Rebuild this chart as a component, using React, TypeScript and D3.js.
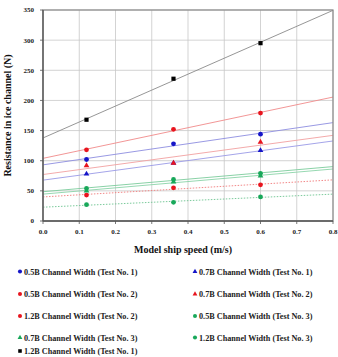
import React from "react";
import * as d3 from "d3";

// Model ship speed (m/s) at which each test was run
const speeds = [0.12, 0.36, 0.6];

// Resistance in ice channel (N) per test configuration
const w05t1 = [102, 128, 144];
const w07t1 = [78, 96, 117];
const w05t2 = [118, 152, 179];
const w07t2 = [92, 96, 131];
const w12t2 = [43, 55, 60];
const w05t3 = [54, 69, 79];
const w07t3 = [50, 65, 75];
const w12t3 = [27, 31, 40];
const w12t1 = [168, 236, 295];

const xTicks = [0, 0.1, 0.2, 0.3, 0.4, 0.5, 0.6, 0.7, 0.8];
const yTicks = [0, 50, 100, 150, 200, 250, 300, 350];

type Shape = "circle" | "triangle" | "square";
interface Series {
  label: string;
  values: number[];
  shape: Shape;
  color: string;
  lineColor: string;
  dash?: string;
}

const BLUE = "#1515c8";
const RED = "#e8141e";
const GREEN = "#18a85a";

const series: Series[] = [
  { label: "0.5B Channel Width (Test No. 1)", values: w05t1, shape: "circle", color: BLUE, lineColor: "#8d8de0" },
  { label: "0.7B Channel Width (Test No. 1)", values: w07t1, shape: "triangle", color: BLUE, lineColor: "#9a9ae6" },
  { label: "0.5B Channel Width (Test No. 2)", values: w05t2, shape: "circle", color: RED, lineColor: "#f08a8a" },
  { label: "0.7B Channel Width (Test No. 2)", values: w07t2, shape: "triangle", color: RED, lineColor: "#f2a0a0" },
  { label: "1.2B Channel Width (Test No. 2)", values: w12t2, shape: "circle", color: RED, lineColor: "#f07a7a", dash: "1.5,1.5" },
  { label: "0.5B Channel Width (Test No. 3)", values: w05t3, shape: "circle", color: GREEN, lineColor: "#7ccc9c" },
  { label: "0.7B Channel Width (Test No. 3)", values: w07t3, shape: "triangle", color: GREEN, lineColor: "#8ad4a8" },
  { label: "1.2B Channel Width (Test No. 3)", values: w12t3, shape: "circle", color: GREEN, lineColor: "#6cc490", dash: "1.5,1.5" },
  { label: "1.2B Channel Width (Test No. 1)", values: w12t1, shape: "square", color: "#000000", lineColor: "#8a8a8a" },
];

const W = 338;
const H = 357;
const M = { left: 43, right: 333, top: 10, bottom: 221 };
const FONT = "'Liberation Serif', 'Times New Roman', serif";

const x = d3.scaleLinear().domain([0, 0.8]).range([M.left, M.right]);
const y = d3.scaleLinear().domain([0, 350]).range([M.bottom, M.top]);

// Least-squares linear trend through a series
function fit(xs: number[], ys: number[]) {
  const mx = d3.mean(xs) as number;
  const my = d3.mean(ys) as number;
  let num = 0;
  let den = 0;
  xs.forEach((xv, i) => {
    num += (xv - mx) * (ys[i] - my);
    den += (xv - mx) * (xv - mx);
  });
  const slope = num / den;
  return { slope, intercept: my - slope * mx };
}

function Marker({ shape, cx, cy, color, size = 1 }: { shape: Shape; cx: number; cy: number; color: string; size?: number }) {
  if (shape === "circle") return <circle cx={cx} cy={cy} r={2.4 * size} fill={color} />;
  if (shape === "square") {
    const s = 4.2 * size;
    return <rect x={cx - s / 2} y={cy - s / 2} width={s} height={s} fill={color} />;
  }
  const sym = d3.symbol().type(d3.symbolTriangle).size(14 * size * size)();
  return <path d={sym ?? ""} transform={`translate(${cx},${cy})`} fill={color} />;
}

export default function App() {
  const legendRows = [272, 294.5, 316.5, 338, 351.5];
  const legendCols = [20, 195];

  return (
    <svg width={W} height={H} style={{ position: "absolute", left: 0, top: 0, background: "#fff" }} fontFamily={FONT}>
      {/* grid */}
      {xTicks.map((t) => (
        <line key={"gx" + t} x1={x(t)} x2={x(t)} y1={M.top} y2={M.bottom} stroke="#c8c8c8" strokeWidth={0.8} />
      ))}
      {yTicks.map((t) => (
        <line key={"gy" + t} x1={M.left} x2={M.right} y1={y(t)} y2={y(t)} stroke="#c8c8c8" strokeWidth={0.8} />
      ))}

      {/* trend lines */}
      {series.map((s) => {
        const f = fit(speeds, s.values);
        const xs = [0, 0.8];
        const pts = xs.map((xv) => [x(xv), y(f.intercept + f.slope * xv)] as [number, number]);
        return (
          <path
            key={"l" + s.label}
            d={d3.line()(pts) ?? ""}
            fill="none"
            stroke={s.lineColor}
            strokeWidth={0.9}
            strokeDasharray={s.dash}
          />
        );
      })}

      {/* data points */}
      {series.map((s) =>
        s.values.map((v, i) => (
          <Marker key={s.label + i} shape={s.shape} cx={x(speeds[i])} cy={y(v)} color={s.color} />
        ))
      )}

      {/* frame */}
      <rect x={M.left} y={M.top} width={M.right - M.left} height={M.bottom - M.top} fill="none" stroke="#8a8a8a" strokeWidth={1.2} />
      <line x1={M.left} x2={M.left} y1={M.top} y2={M.bottom} stroke="#555" strokeWidth={1.3} />
      <line x1={M.left} x2={M.right} y1={M.bottom} y2={M.bottom} stroke="#555" strokeWidth={1.3} />

      {/* axis ticks and labels */}
      {yTicks.map((t) => (
        <g key={"yt" + t}>
          <line x1={M.left - 3} x2={M.left} y1={y(t)} y2={y(t)} stroke="#555" strokeWidth={0.8} />
          <text x={34} y={y(t)} dy="0.35em" textAnchor="end" fontSize={7} fontWeight="bold" fill="#222">
            {t}
          </text>
        </g>
      ))}
      {xTicks.map((t) => (
        <g key={"xt" + t}>
          <line x1={x(t)} x2={x(t)} y1={M.bottom} y2={M.bottom + 3} stroke="#555" strokeWidth={0.8} />
          <text x={x(t)} y={234} textAnchor="middle" fontSize={7} fontWeight="bold" fill="#222">
            {d3.format(".1f")(t)}
          </text>
        </g>
      ))}

      <text x={183} y={253} textAnchor="middle" fontSize={10} fontWeight="bold" fill="#111">
        Model ship speed (m/s)
      </text>
      <text
        transform={`translate(11,${(M.top + M.bottom) / 2}) rotate(-90)`}
        textAnchor="middle"
        fontSize={10}
        fontWeight="bold"
        fill="#111"
      >
        Resistance in ice channel (N)
      </text>

      {/* legend */}
      {series.map((s, i) => {
        const row = Math.floor(i / 2);
        const col = i % 2;
        const lx = legendCols[col];
        const ly = legendRows[row];
        return (
          <g key={"lg" + s.label}>
            <Marker shape={s.shape} cx={lx} cy={ly - 0.5} color={s.color} size={0.85} />
            <text x={lx + 4} y={ly} dy="0.35em" fontSize={8.2} fontWeight="bold" fill="#222">
              {s.label}
            </text>
          </g>
        );
      })}
    </svg>
  );
}
